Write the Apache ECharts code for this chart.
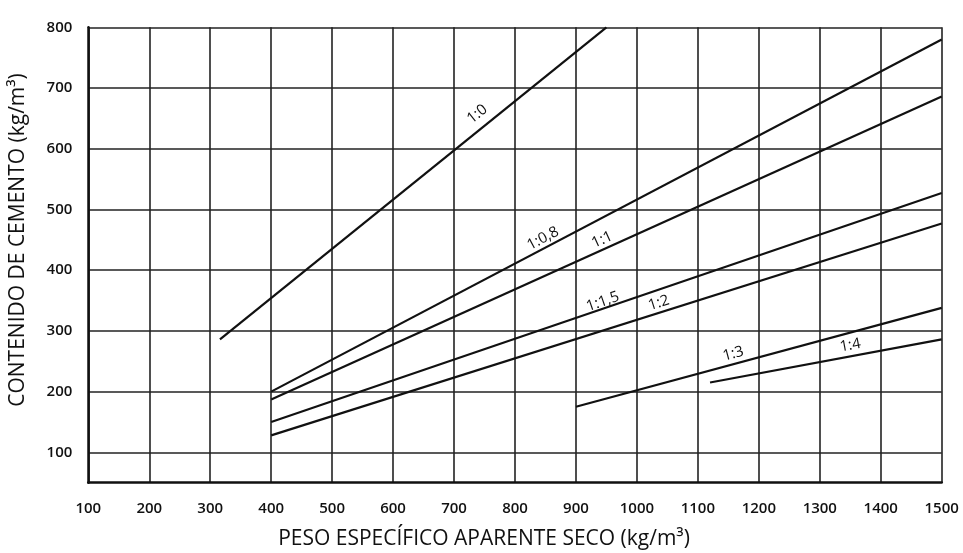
<!DOCTYPE html>
<html>
<head>
<meta charset="utf-8">
<script src="https://cdn.jsdelivr.net/npm/echarts@6/dist/echarts.min.js"></script>
<style>
html,body{margin:0;padding:0;background:#fff;}
#chart{width:963px;height:553px;}
</style>
</head>
<body>
<div id="chart"></div>
<script>
// Tick labels
const xTicks = [100,200,300,400,500,600,700,800,900,1000,1100,1200,1300,1400,1500];
const yTicks = [100,200,300,400,500,600,700,800];

// Series: names and endpoints [peso especifico, contenido de cemento]
const seriesNames = ['1:0','1:0,8','1:1','1:1,5','1:2','1:3','1:4'];
const s10  = [[316,286],[950,800]];
const s108 = [[400,200],[1500,780]];
const s11  = [[400,187],[1500,686]];
const s115 = [[400,150],[1500,527]];
const s12  = [[400,128],[1500,477]];
const s13  = [[900,175],[1500,338]];
const s14  = [[1120,215],[1500,286]];
const seriesData = [s10,s108,s11,s115,s12,s13,s14];

// Label anchor (data coords) and rotation for each curve label
const labelCoords = [[738,657],[846,452],[943,450],[944,348],[1036,346],[1158,262],[1350,276]];
const labelAngles = [39,28,24.4,19,17.6,15.2,10.6];

const chart = echarts.init(document.getElementById('chart'));
const font = '"Open Sans", "Noto Sans", sans-serif';

const series = seriesNames.map((name,i)=>({
  name: name,
  type: 'line',
  data: seriesData[i],
  symbol: 'none',
  silent: true,
  lineStyle: {color:'#111', width:2.2},
  markPoint: {
    symbol: 'circle', symbolSize: 0,
    silent: true,
    data: [{
      coord: labelCoords[i],
      label: {
        show: true, position: 'inside', formatter: name,
        rotate: labelAngles[i], color: '#111',
        fontFamily: font, fontSize: 15
      }
    }]
  }
}));

chart.setOption({
  animation: false,
  backgroundColor: '#fff',
  grid: {left: 88.3, right: 21.3, top: 27.3, bottom: 70.3, containLabel: false, outerBoundsMode: 'none'},
  xAxis: {
    type: 'value', min: 100, max: 1500, interval: 100,
    name: 'PESO ESPECÍFICO APARENTE SECO (kg/m³)',
    nameLocation: 'middle', nameGap: 46,
    nameTextStyle: {fontFamily: font, fontSize: 21, color:'#111', padding: [0, 62, 0, 0]},
    axisLine: {show: true, onZero: false, lineStyle: {color:'#111', width: 2.5}},
    axisTick: {show: false},
    axisLabel: {fontFamily: font, fontSize: 15, fontWeight: 600, color:'#111', margin: 19,
      customValues: xTicks, formatter: v => String(v)},
    splitLine: {show: true, lineStyle: {color:'#222', width: 1.6}}
  },
  yAxis: {
    type: 'value', min: 50, max: 800,
    name: 'CONTENIDO DE CEMENTO (kg/m³)',
    nameLocation: 'middle', nameGap: 60, nameRotate: 90,
    nameTextStyle: {fontFamily: font, fontSize: 21, color:'#111', padding: [0, 0, 0, 30]},
    axisLine: {show: true, onZero: false, lineStyle: {color:'#111', width: 2.5}},
    axisTick: {show: false, customValues: yTicks},
    axisLabel: {fontFamily: font, fontSize: 15, fontWeight: 600, color:'#111', margin: 16,
      customValues: yTicks, formatter: v => String(v), verticalAlign: 'middle', padding: [0, 0, 12, 0]},
    splitLine: {show: true, lineStyle: {color:'#222', width: 1.6}}
  },
  series: series
});
</script>
</body>
</html>
